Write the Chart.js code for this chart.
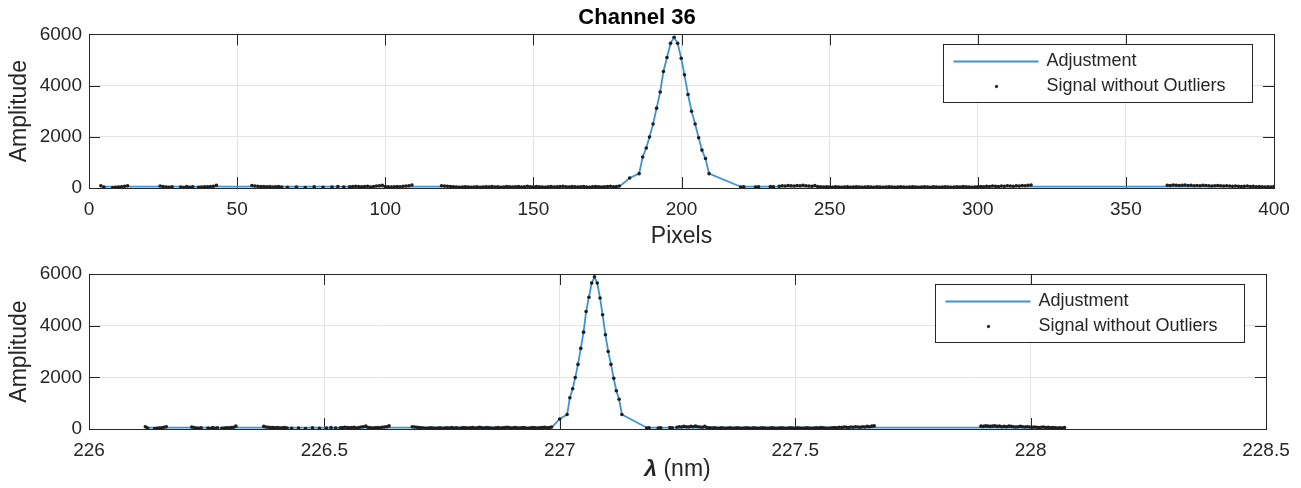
<!DOCTYPE html>
<html>
<head>
<meta charset="utf-8">
<script src="https://cdn.jsdelivr.net/npm/chart.js@4.4.1/dist/chart.umd.min.js"></script>
<style>
  html, body { margin: 0; padding: 0; background: #fff; }
  .panel { position: absolute; left: 0; width: 1301px; }
  #top { top: 0; height: 248px; }
  #bottom { top: 248px; height: 240px; }
</style>
</head>
<body>
<div class="panel" id="top"><canvas id="pixelChart"></canvas></div>
<div class="panel" id="bottom"><canvas id="lambdaChart"></canvas></div>
<script>
// signal without outliers on the baseline, one value per pixel from each segment start (null = removed point)
const segStarts = [4, 24, 55, 119, 220, 364];
const segA = [90, 40, null, null, 20, 30, 40, 50, 70, 90];
const segB = [80, 60, 40, 30, 50, null, null, 40, 20, 60, 30, 50, null, 30, 40, 50, 50, 60, 70, 110];
const segC = [100, 80, 70, 60, 60, 50, 60, 40, 50, 60, 40,
  null, 30, null, null, 40, null, null, 20, null, null, 50, null, null, 30, null, null, 40, null, 60, null, 40, null, 50, 60,
  70, 60, 50, 60, 70, 40, 60, 80, 90, 110, 60, 50, 40, 50, 60, 50, 70, 80, 90, 120];
const segD = [90, 80, 70, 60, 50, 40, 30, 40, 50, 40,
  30, 40, 50, 30, 40, 50, 40, 60, 40, 50,
  30, 40, 60, 50, 40, 50, 60, 40, 50, 70,
  50, 40, 60, 50, 40, 30, 50, 60, 40, 50,
  60, 70, 50, 40, 60, 50, 40, 50, 60, 40,
  30, 50, 60, 50, 40, 50, 60, 70, 50, 60, 80];
const segE = [40, 50, null, null, null, 40, 50, null, null, null,
  60, 50, null, 70, 90, 80, 100, 90, 80, 100,
  90, 110, 90, 80, 70, 100, 60, 50, 40, 50,
  40, 30, 50, 40, 30, 40, 50, 30, 40, 50,
  40, 30, 40, 50, 40, 30, 50, 40, 30, 40,
  50, 40, 30, 40, 50, 40, 30, 40, 50, 40,
  30, 40, 50, 40, 30, 50, 40, 30, 40, 50,
  40, 30, 40, 50, 40, 60, 50, 40, 30, 40,
  50, 60, 50, 70, 60, 80, 70, 60, 80, 70,
  90, 80, 70, 90, 80, 100, 90, 110, 120];
const segF = [110, 100, 120, 110, 100, 110, 120, 100, 110, 90,
  100, 90, 110, 100, 90, 80, 90, 100, 90, 80,
  90, 80, 70, 80, 70, 60, 70, 80, 60, 70,
  50, 60, 50, 40, 50, 40, 60];
const segAmps = [segA, segB, segC, segD, segE, segF];

// peak samples (pixel position, amplitude)
const peakPixels = [182.5, 185.7, 186.9, 188.1, 189.2, 190.4, 191.6, 192.8, 193.9, 195.1, 196.3,
  197.5, 198.7, 199.9, 201.0, 202.2, 203.4, 204.6, 205.8, 206.9, 208.1, 209.3];
const peakAmp = [390, 560, 1210, 1560, 1990, 2500, 3120, 3750, 4550, 5100, 5650,
  5890, 5650, 5070, 4420, 3650, 3000, 2500, 1960, 1480, 1150, 560];

// adjustment: flat base, then through the peak
const fitBase = 50;
const fitBaseEnds = [4, 179, 220, 400];

// wavelength calibration (nm) = lambda0 + lambdaStep * pixel
const lambda0 = 226.10;
const lambdaStep = 0.00493;

const ampTicks = [0, 2000, 4000, 6000];
const pixelTicks = [0, 50, 100, 150, 200, 250, 300, 350, 400];
const lambdaTicks = [226, 226.5, 227, 227.5, 228, 228.5];

const FONT = "'Liberation Sans', Arial, sans-serif";
const INK = '#262626';
const BLUE = '#3b93d6';

function signalPoints(toX) {
    const pts = [];
    segAmps.forEach(function(amps, s) {
        amps.forEach(function(v, i) {
            if (v !== null) pts.push({ x: toX(segStarts[s] + i), y: v });
        });
    });
    peakPixels.forEach(function(p, i) { pts.push({ x: toX(p), y: peakAmp[i] }); });
    return pts;
}

function fitPoints(toX) {
    const pts = [{ x: toX(fitBaseEnds[0]), y: fitBase }, { x: toX(fitBaseEnds[1]), y: fitBase }];
    peakPixels.forEach(function(p, i) { pts.push({ x: toX(p), y: peakAmp[i] }); });
    pts.push({ x: toX(fitBaseEnds[2]), y: fitBase }, { x: toX(fitBaseEnds[3]), y: fitBase });
    return pts;
}

// box, inward ticks and inner legend, like the original figure
const axesBox = {
    id: 'axesBox',
    beforeDatasetsDraw(chart) {
        const { ctx, chartArea: a, scales } = chart;
        const len = 11;
        ctx.save();
        ctx.strokeStyle = INK;
        ctx.lineWidth = 1;
        ctx.beginPath();
        scales.x.ticks.forEach(function(t) {
            const px = Math.round(scales.x.getPixelForValue(t.value)) + 0.5;
            ctx.moveTo(px, a.bottom); ctx.lineTo(px, a.bottom - len);
            ctx.moveTo(px, a.top); ctx.lineTo(px, a.top + len);
        });
        scales.y.ticks.forEach(function(t) {
            const py = Math.round(scales.y.getPixelForValue(t.value)) + 0.5;
            ctx.moveTo(a.left, py); ctx.lineTo(a.left + len, py);
            ctx.moveTo(a.right, py); ctx.lineTo(a.right - len, py);
        });
        ctx.stroke();
        ctx.strokeRect(Math.round(a.left) + 0.5, Math.round(a.top) + 0.5, Math.round(a.width), Math.round(a.height));
        ctx.restore();
    },
    afterDraw(chart) {
        const { ctx, chartArea: a } = chart;
        const w = 309, h = 58;
        const bx = Math.round(a.right - 331) + 0.5, by = Math.round(a.top + 10) + 0.5;
        ctx.save();
        ctx.fillStyle = '#fff';
        ctx.fillRect(bx, by, w, h);
        ctx.strokeStyle = INK;
        ctx.lineWidth = 1;
        ctx.strokeRect(bx, by, w, h);
        ctx.strokeStyle = BLUE;
        ctx.lineWidth = 1.8;
        ctx.beginPath();
        ctx.moveTo(bx + 10, by + 17); ctx.lineTo(bx + 95, by + 17);
        ctx.stroke();
        ctx.fillStyle = '#333';
        ctx.beginPath();
        ctx.arc(bx + 53, by + 42, 1.7, 0, Math.PI * 2);
        ctx.fill();
        ctx.fillStyle = INK;
        ctx.font = '18px ' + FONT;
        ctx.textBaseline = 'middle';
        ctx.fillText(chart.data.datasets[0].label, bx + 103, by + 17);
        ctx.fillText(chart.data.datasets[1].label, bx + 103, by + 42);
        const xt = chart.options.plugins.axesBox && chart.options.plugins.axesBox.lambdaTitle;
        if (xt) {
            const cx = (a.left + a.right) / 2, cy = a.bottom + 41;
            ctx.font = 'italic bold 23px ' + FONT;
            const w1 = ctx.measureText('λ').width;
            ctx.font = '23px ' + FONT;
            const w2 = ctx.measureText(' (nm)').width;
            const x0 = cx - (w1 + w2) / 2;
            ctx.font = 'italic bold 23px ' + FONT;
            ctx.fillText('λ', x0, cy);
            ctx.font = '23px ' + FONT;
            ctx.fillText(' (nm)', x0 + w1, cy);
        }
        ctx.restore();
    }
};

function makeChart(id, opts) {
    const ctx = document.getElementById(id).getContext('2d');
    return new Chart(ctx, {
        type: 'scatter',
        data: {
            datasets: [{
                label: 'Adjustment',
                data: opts.fit,
                showLine: true,
                borderColor: BLUE,
                borderWidth: 1.8,
                pointRadius: 0,
                tension: 0,
                order: 2
            }, {
                label: 'Signal without Outliers',
                data: opts.signal,
                showLine: false,
                pointRadius: 1.8,
                pointBorderWidth: 0,
                pointBackgroundColor: '#1e1e1e',
                order: 1
            }]
        },
        options: {
            responsive: true,
            maintainAspectRatio: false,
            animation: false,
            events: [],
            layout: { padding: opts.padding },
            scales: {
                x: {
                    type: 'linear',
                    min: opts.xTicks[0],
                    max: opts.xTicks[opts.xTicks.length - 1],
                    afterBuildTicks: function(scale) { scale.ticks = opts.xTicks.map(function(v) { return { value: v }; }); },
                    afterFit: function(scale) { scale.height = opts.xHeight; },
                    grid: { color: '#e4e4e4', drawTicks: false },
                    border: { display: false },
                    ticks: {
                        color: INK, padding: 10, maxRotation: 0, autoSkip: false,
                        font: { family: FONT, size: 19 },
                        callback: function(v) { return String(v); }
                    },
                    title: {
                        display: !!opts.xTitle,
                        text: opts.xTitle || '',
                        color: INK,
                        font: { family: FONT, size: 23, lineHeight: 1 },
                        padding: { top: 0, bottom: 0 }
                    }
                },
                y: {
                    min: 0,
                    max: 6000,
                    afterBuildTicks: function(scale) { scale.ticks = ampTicks.map(function(v) { return { value: v }; }); },
                    afterFit: function(scale) { scale.width = 89; },
                    grid: { color: '#e4e4e4', drawTicks: false },
                    border: { display: false },
                    ticks: {
                        color: INK, padding: 7, font: { family: FONT, size: 19 },
                        callback: function(v) { return String(v); }
                    },
                    title: {
                        display: true,
                        text: 'Amplitude',
                        color: INK,
                        font: { family: FONT, size: 23, lineHeight: 1 },
                        padding: { top: 8, bottom: 0 }
                    }
                }
            },
            plugins: {
                legend: { display: false },
                tooltip: { enabled: false },
                title: {
                    display: !!opts.title,
                    text: opts.title || '',
                    color: '#000',
                    font: { family: FONT, size: 22, weight: 'bold', lineHeight: 1.2 },
                    padding: { top: 5, bottom: 3 }
                },
                axesBox: { lambdaTitle: opts.lambdaTitle }
            }
        },
        plugins: [axesBox]
    });
}

document.addEventListener('DOMContentLoaded', function() {
    const byPixel = function(p) { return p; };
    const byLambda = function(p) { return lambda0 + lambdaStep * p; };

    makeChart('pixelChart', {
        title: 'Channel 36',
        xTitle: 'Pixels',
        xTicks: pixelTicks,
        xHeight: 60,
        padding: { left: 0, right: 27, top: 0, bottom: 0 },
        fit: fitPoints(byPixel),
        signal: signalPoints(byPixel)
    });

    makeChart('lambdaChart', {
        lambdaTitle: true,
        xTicks: lambdaTicks,
        xHeight: 59,
        padding: { left: 0, right: 35, top: 26, bottom: 0 },
        fit: fitPoints(byLambda),
        signal: signalPoints(byLambda)
    });
});
</script>
</body>
</html>
